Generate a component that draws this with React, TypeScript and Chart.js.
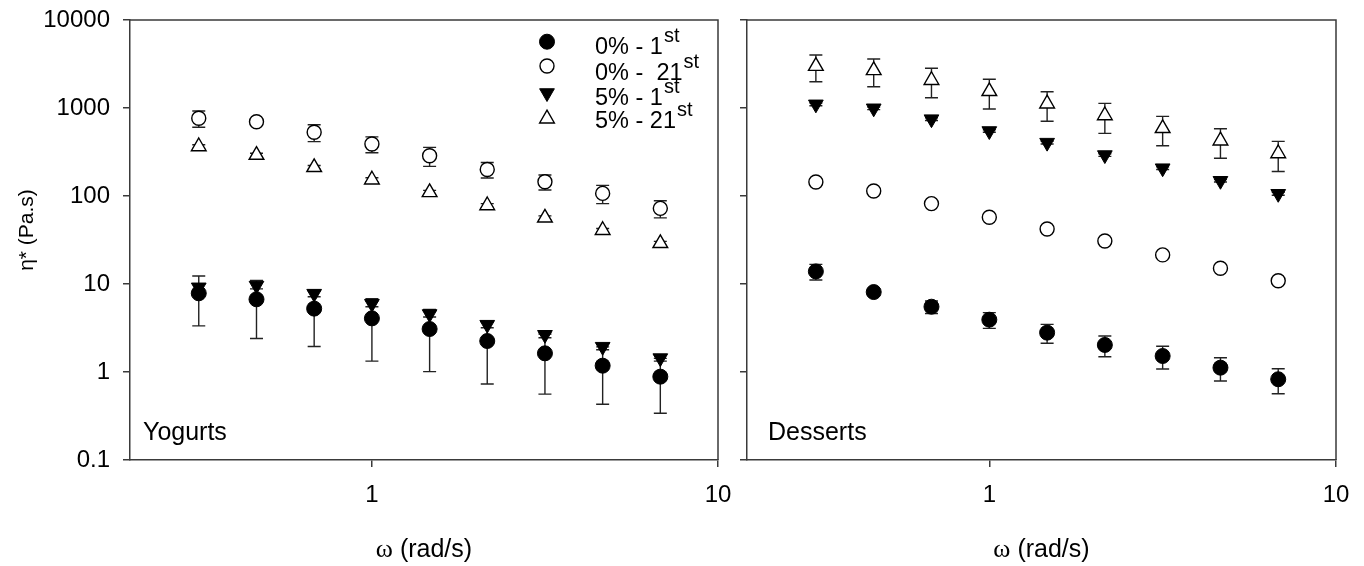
import React, { useEffect, useRef } from "react";
import { Chart, registerables } from "chart.js";

Chart.register(...registerables);

// ---------- data ----------
const omega = [0.316, 0.464, 0.681, 1.0, 1.468, 2.154, 3.162, 4.642, 6.813];
const xTickValues = [1, 10];
const yTickValues = [0.1, 1, 10, 100, 1000, 10000];

const seriesNames = ["0% - 1st", "0% - 21st", "5% - 1st", "5% - 21st"];
const legendMain = ["0% - 1", "0% -  21", "5% - 1", "5% - 21"];
const legendSup = ["st", "st", "st", "st"];

// Yogurts
const yog0First = [7.84, 6.7, 5.25, 4.07, 3.08, 2.25, 1.63, 1.18, 0.885];
const yog0FirstErr = [4.5, 4.3, 3.3, 2.74, 2.07, 1.52, 1.07, 0.75, 0.545];
const yog0Last = [764, 698, 530, 390, 287, 200, 145, 107, 72.4];
const yog0LastErr = [160, 40, 115, 80, 70, 40, 28, 25, 16];
const yog5First = [9.17, 9.6, 7.77, 5.97, 4.56, 3.45, 2.65, 1.94, 1.44];
const yog5FirstErr = [0.8, 0.8, 0.6, 0.45, 0.35, 0.27, 0.2, 0.15, 0.11];
const yog5Last = [365, 292, 212, 153, 110, 78, 56.5, 40.8, 29];
const yog5LastErr = [18, 14, 10, 8, 6, 4, 3, 2, 1.5];

// Desserts
const des0First = [13.9, 8.1, 5.52, 3.93, 2.8, 2.03, 1.52, 1.12, 0.827];
const des0FirstErr = [2.8, 0.7, 0.9, 0.8, 0.68, 0.54, 0.44, 0.33, 0.26];
const des0Last = [144, 114, 82, 57.3, 42.2, 30.8, 21.4, 15.1, 10.9];
const des0LastErr = [5, 4, 3, 2, 1.5, 1, 0.8, 0.5, 0.4];
const des5First = [1101, 993, 747, 548, 404, 292, 207, 149, 106];
const des5FirstErr = [40, 35, 25, 18, 14, 10, 7, 5, 4];
const des5Last = [2995, 2675, 2068, 1548, 1119, 822, 588, 425, 304];
const des5LastErr = [1005, 930, 758, 573, 413, 307, 215, 157, 114];

const panelLabels = ["Yogurts", "Desserts"];
const xTitleSymbol = "ω";
const xTitleRest = " (rad/s)";
const yTitle = "η* (Pa.s)";

// ---------- styling ----------
const SANS = "'Liberation Sans', Arial, Helvetica, sans-serif";
const SERIF = "'Liberation Serif', 'Times New Roman', serif";
const AXIS_COLOR = "#3a3a3a";
const styles = [
  { pointStyle: "circle", radius: 7.5, rotation: 0, fill: "#000", border: 1 },
  { pointStyle: "circle", radius: 7, rotation: 0, fill: "#fff", border: 1.4 },
  { pointStyle: "triangle", radius: 8.5, rotation: 180, fill: "#000", border: 1 },
  { pointStyle: "triangle", radius: 8.5, rotation: 0, fill: "#fff", border: 1.4 },
];

function drawMarker(ctx: CanvasRenderingContext2D, idx: number, x: number, y: number) {
  const s = styles[idx];
  ctx.save();
  ctx.beginPath();
  if (s.pointStyle === "circle") {
    ctx.arc(x, y, s.radius, 0, Math.PI * 2);
  } else {
    let rad = (s.rotation * Math.PI) / 180;
    const r = s.radius;
    ctx.moveTo(x + Math.sin(rad) * r, y - Math.cos(rad) * r);
    rad += (2 * Math.PI) / 3;
    ctx.lineTo(x + Math.sin(rad) * r, y - Math.cos(rad) * r);
    rad += (2 * Math.PI) / 3;
    ctx.lineTo(x + Math.sin(rad) * r, y - Math.cos(rad) * r);
    ctx.closePath();
  }
  ctx.fillStyle = s.fill;
  ctx.fill();
  ctx.lineWidth = s.border;
  ctx.strokeStyle = "#000";
  ctx.stroke();
  ctx.restore();
}

function makeDatasets(values: number[][], errors: number[][]) {
  return values.map((vals, i) => {
    const s = styles[i];
    return {
      label: seriesNames[i],
      data: omega.map((x, j) => ({ x, y: vals[j] })),
      errors: errors[i],
      showLine: false,
      pointStyle: s.pointStyle,
      pointRadius: s.radius,
      pointRotation: s.rotation,
      pointBackgroundColor: s.fill,
      pointBorderColor: "#000",
      pointBorderWidth: s.border,
    } as any;
  });
}

const errorBarPlugin = {
  id: "errorBars",
  beforeDatasetsDraw(chart: any) {
    const ctx = chart.ctx;
    const yScale = chart.scales.y;
    ctx.save();
    ctx.strokeStyle = "#222";
    ctx.lineWidth = 1.4;
    chart.data.datasets.forEach((ds: any, i: number) => {
      const meta = chart.getDatasetMeta(i);
      ds.data.forEach((p: any, j: number) => {
        const e = ds.errors ? ds.errors[j] : 0;
        if (!e) return;
        const x = meta.data[j].x;
        const yTop = yScale.getPixelForValue(p.y + e);
        const lo = p.y - e > 0 ? p.y - e : p.y * 0.01;
        const yBot = yScale.getPixelForValue(lo);
        ctx.beginPath();
        ctx.moveTo(x, yTop);
        ctx.lineTo(x, yBot);
        ctx.moveTo(x - 6.5, yTop);
        ctx.lineTo(x + 6.5, yTop);
        ctx.moveTo(x - 6.5, yBot);
        ctx.lineTo(x + 6.5, yBot);
        ctx.stroke();
      });
    });
    ctx.restore();
  },
};

function decoPlugin(panel: number) {
  return {
    id: "deco" + panel,
    afterDraw(chart: any) {
      const ctx: CanvasRenderingContext2D = chart.ctx;
      const a = chart.chartArea;
      ctx.save();
      // frame top + right
      ctx.strokeStyle = AXIS_COLOR;
      ctx.lineWidth = 1.5;
      ctx.beginPath();
      ctx.moveTo(a.left, a.top);
      ctx.lineTo(a.right, a.top);
      ctx.lineTo(a.right, a.bottom);
      ctx.stroke();

      // panel label
      ctx.fillStyle = "#000";
      ctx.font = `25px ${SANS}`;
      ctx.textAlign = "left";
      ctx.textBaseline = "alphabetic";
      ctx.fillText(panelLabels[panel], a.left + (panel === 0 ? 13 : 21), 440);

      // x title (serif omega + sans rest)
      const cx = (a.left + a.right) / 2;
      ctx.font = `26px ${SERIF}`;
      const w1 = ctx.measureText(xTitleSymbol).width;
      ctx.font = `25px ${SANS}`;
      const w2 = ctx.measureText(xTitleRest).width;
      const sx = cx - (w1 + w2) / 2;
      ctx.font = `26px ${SERIF}`;
      ctx.fillText(xTitleSymbol, sx, 557);
      ctx.font = `25px ${SANS}`;
      ctx.fillText(xTitleRest, sx + w1, 557);

      if (panel === 0) {
        // y title
        ctx.save();
        ctx.translate(27, 230);
        ctx.rotate(-Math.PI / 2);
        ctx.font = `21px ${SANS}`;
        ctx.textAlign = "center";
        ctx.textBaseline = "middle";
        ctx.fillText(yTitle, 0, 0);
        ctx.restore();

        // legend
        const markerY = [41.7, 66, 93, 118.7];
        const textY = [54, 80, 105, 128.3];
        for (let i = 0; i < 4; i++) {
          drawMarker(ctx, i, 547, markerY[i]);
          ctx.fillStyle = "#000";
          ctx.textAlign = "left";
          ctx.textBaseline = "alphabetic";
          ctx.font = `23.5px ${SANS}`;
          ctx.fillText(legendMain[i], 595, textY[i]);
          const w = ctx.measureText(legendMain[i]).width;
          ctx.font = `20px ${SANS}`;
          ctx.fillText(legendSup[i], 595 + w + 1, textY[i] - 12);
        }
      }
      ctx.restore();
    },
  };
}

function zeroPad(s: any) {
  s.paddingTop = 0;
  s.paddingBottom = 0;
  s.paddingLeft = 0;
  s.paddingRight = 0;
}

function makeConfig(panel: number, values: number[][], errors: number[][]): any {
  const tickFont = { family: SANS, size: 24 };
  return {
    type: "scatter",
    data: { datasets: makeDatasets(values, errors) },
    plugins: [errorBarPlugin, decoPlugin(panel)],
    options: {
      responsive: false,
      animation: false,
      events: [],
      layout: { padding: { top: 20, right: panel === 0 ? 14 : 28, left: 0, bottom: 0 } },
      plugins: { legend: { display: false }, tooltip: { enabled: false } },
      scales: {
        x: {
          type: "logarithmic",
          position: "bottom",
          min: 0.2,
          max: 10,
          afterBuildTicks: (s: any) => {
            s.ticks = xTickValues.map((v) => ({ value: v }));
          },
          afterFit: (s: any) => {
            s.height = 106;
            zeroPad(s);
          },
          ticks: {
            autoSkip: false,
            maxRotation: 0,
            padding: 14,
            color: "#000",
            font: tickFont,
            callback: (v: any) => String(v),
          },
          grid: { drawOnChartArea: false, drawTicks: true, tickLength: 7, color: AXIS_COLOR, lineWidth: 1.5 },
          border: { display: true, color: AXIS_COLOR, width: 1.5 },
        },
        y: {
          type: "logarithmic",
          position: "left",
          min: 0.1,
          max: 10000,
          afterBuildTicks: (s: any) => {
            s.ticks = yTickValues.map((v) => ({ value: v }));
          },
          afterFit: (s: any) => {
            s.width = panel === 0 ? 130 : 15;
            zeroPad(s);
          },
          ticks: {
            display: panel === 0,
            autoSkip: false,
            padding: 13,
            color: "#000",
            font: tickFont,
            callback: (v: any) => String(v),
          },
          grid: { drawOnChartArea: false, drawTicks: true, tickLength: 7, color: AXIS_COLOR, lineWidth: 1.5 },
          border: { display: true, color: AXIS_COLOR, width: 1.5 },
        },
      },
    },
  };
}

export default function App() {
  const leftRef = useRef<HTMLCanvasElement>(null);
  const rightRef = useRef<HTMLCanvasElement>(null);

  useEffect(() => {
    document.body.style.margin = "0";
    const c1 = new Chart(
      leftRef.current as HTMLCanvasElement,
      makeConfig(
        0,
        [yog0First, yog0Last, yog5First, yog5Last],
        [yog0FirstErr, yog0LastErr, yog5FirstErr, yog5LastErr]
      )
    );
    const c2 = new Chart(
      rightRef.current as HTMLCanvasElement,
      makeConfig(
        1,
        [des0First, des0Last, des5First, des5Last],
        [des0FirstErr, des0LastErr, des5FirstErr, des5LastErr]
      )
    );
    return () => {
      c1.destroy();
      c2.destroy();
    };
  }, []);

  return (
    <div style={{ position: "absolute", left: 0, top: 0, width: 1364, height: 566, background: "#fff" }}>
      <canvas ref={leftRef} width={732} height={566} style={{ position: "absolute", left: 0, top: 0 }} />
      <canvas ref={rightRef} width={632} height={566} style={{ position: "absolute", left: 732, top: 0 }} />
    </div>
  );
}
